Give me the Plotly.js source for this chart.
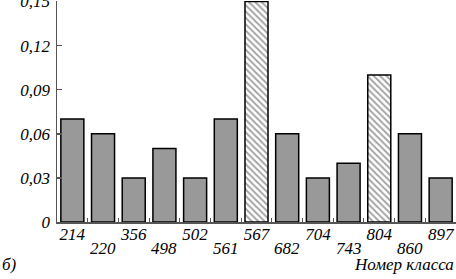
<!DOCTYPE html>
<html>
<head>
<meta charset="utf-8">
<script src="https://cdn.plot.ly/plotly-3.0.1.min.js"></script>
<style>html,body{margin:0;padding:0;background:#fff}#chart{width:456px;height:279px}</style>
</head>
<body>
<div id="chart"></div>
<script>
// Data
var classes = ["214","220","356","498","502","561","567","682","704","743","804","860","897"];
var values  = [0.07, 0.06, 0.03, 0.05, 0.03, 0.07, 0.15, 0.06, 0.03, 0.04, 0.10, 0.06, 0.03];
var hatched = [false,false,false,false,false,false,true,false,false,false,true,false,false];
var yTickVals = [0, 0.03, 0.06, 0.09, 0.12, 0.15];
var yTickText = ["0", "0,03", "0,06", "0,09", "0,12", "0,15"];
var xTitle = "Номер класса";
var panelLabel = "б)";

var serif = "Liberation Serif";
var fontItalic = {family: serif, size: 17, color: "#000", style: "italic"};

var fillColors = hatched.map(function(h){ return h ? "#ffffff" : "#999999"; });
var shapes = hatched.map(function(h){ return h ? "\\" : ""; });

var trace = {
  type: "bar",
  x: classes,
  y: values,
  marker: {
    color: fillColors,
    line: {color: "#000", width: 1.5},
    pattern: {shape: shapes, fgcolor: "#000", bgcolor: "#ffffff", size: 4.5, solidity: 0.4, fillmode: "overlay"}
  },
  hoverinfo: "none"
};

// row1 labels as tick text, row2 as annotations
var row1 = classes.map(function(c, i){ return i % 2 === 0 ? c : ""; });
var annotations = [];
classes.forEach(function(c, i){
  if (i % 2 === 1) {
    annotations.push({x: i, xref: "x", y: 0, yref: "paper", yshift: -15, yanchor: "top", xanchor: "center",
      text: c, showarrow: false, font: fontItalic});
  }
});
annotations.push({x: 1, xref: "paper", xanchor: "right", y: 0, yref: "paper", yshift: -31, yanchor: "top",
  text: xTitle, showarrow: false, font: fontItalic});
annotations.push({x: 0, xref: "paper", xshift: -57, xanchor: "left", y: 0, yref: "paper", yshift: -31, yanchor: "top",
  text: panelLabel, showarrow: false, font: fontItalic});

var layout = {
  width: 456, height: 279,
  margin: {l: 57, r: 0, t: 1, b: 57},
  paper_bgcolor: "#fff", plot_bgcolor: "#fff",
  bargap: 0.25,
  showlegend: false,
  xaxis: {
    type: "category",
    range: [-0.5, classes.length - 0.5],
    tickmode: "array",
    tickvals: classes,
    ticktext: row1,
    tickson: "boundaries",
    ticks: "inside", ticklen: 4, tickcolor: "#555", tickwidth: 1,
    showline: true, linecolor: "#555", linewidth: 1.5,
    showgrid: false, zeroline: false,
    tickfont: fontItalic,
    tickangle: 0,
    ticklabelstandoff: -4,
    fixedrange: true
  },
  yaxis: {
    range: [0, 0.1503],
    tickmode: "array",
    tickvals: yTickVals,
    ticktext: yTickText,
    ticks: "inside", ticklen: 5, tickcolor: "#555", tickwidth: 1.5,
    showline: true, linecolor: "#555", linewidth: 1.5,
    showgrid: false, zeroline: false,
    tickfont: fontItalic,
    ticklabelstandoff: 2,
    ticklabeloverflow: "allow",
    fixedrange: true
  },
  annotations: annotations
};

Plotly.newPlot("chart", [trace], layout, {staticPlot: true, displayModeBar: false});
</script>
</body>
</html>
